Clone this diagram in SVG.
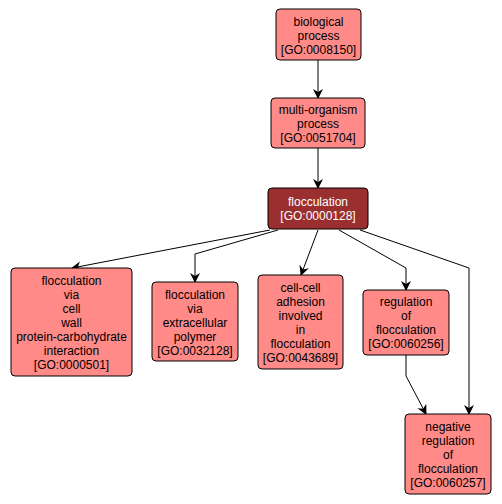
<svg xmlns="http://www.w3.org/2000/svg" width="502" height="504" viewBox="0 0 502 504">
<style>
.n rect{fill:#ff8a87;stroke:#000;stroke-width:1}
.n.sel rect{fill:#9b2f2f}
text{font-family:"Liberation Sans",Arial,sans-serif;font-size:12px;text-anchor:middle;fill:#000}
.sel text{fill:#fff}
.e{fill:none;stroke:#000;stroke-width:1}
</style>
<defs>
<marker id="a" viewBox="0 0 10 10" refX="9" refY="5" markerWidth="10" markerHeight="10" markerUnits="userSpaceOnUse" orient="auto">
<path d="M0,0 L10,5 L0,10 L3,5 Z" fill="#000"/>
</marker>
</defs>
<rect width="502" height="504" fill="#fff"/>
<g id="edges">
<path class="e" d="M318,60 L318,98" marker-end="url(#a)"/>
<path class="e" d="M318,148 L318,188" marker-end="url(#a)"/>
<path class="e" d="M270,230 L72,268" marker-end="url(#a)"/>
<path class="e" d="M278,230 L195,254 L195,282" marker-end="url(#a)"/>
<path class="e" d="M318,230 L301,275" marker-end="url(#a)"/>
<path class="e" d="M339,230 L406,268 L406,290" marker-end="url(#a)"/>
<path class="e" d="M360,230 L469,268 L469,414" marker-end="url(#a)"/>
<path class="e" d="M406,355 L406,376 L426,414" marker-end="url(#a)"/>
</g>
<g id="n1" class="n"><rect x="276" y="9" width="85" height="51" rx="4"/>
<text x="318.5" y="26">biological</text><text x="318.5" y="40">process</text><text x="318.5" y="54">[GO:0008150]</text></g>
<g id="n2" class="n"><rect x="271" y="98" width="94" height="50" rx="4"/>
<text x="318" y="114">multi-organism</text><text x="318" y="128">process</text><text x="318" y="142">[GO:0051704]</text></g>
<g id="n3" class="n sel"><rect x="268" y="188" width="100" height="41" rx="4"/>
<text x="318" y="206">flocculation</text><text x="318" y="220">[GO:0000128]</text></g>
<g id="n4" class="n"><rect x="11" y="268" width="121" height="108" rx="4"/>
<text x="71.5" y="285">flocculation</text><text x="71.5" y="299">via</text><text x="71.5" y="313">cell</text><text x="71.5" y="327">wall</text><text x="71.5" y="341">protein-carbohydrate</text><text x="71.5" y="355">interaction</text><text x="71.5" y="369">[GO:0000501]</text></g>
<g id="n5" class="n"><rect x="152" y="282" width="86" height="79" rx="4"/>
<text x="195" y="299">flocculation</text><text x="195" y="313">via</text><text x="195" y="327">extracellular</text><text x="195" y="341">polymer</text><text x="195" y="355">[GO:0032128]</text></g>
<g id="n6" class="n"><rect x="258" y="275" width="85" height="94" rx="4"/>
<text x="300.5" y="292">cell-cell</text><text x="300.5" y="306">adhesion</text><text x="300.5" y="320">involved</text><text x="300.5" y="334">in</text><text x="300.5" y="348">flocculation</text><text x="300.5" y="362">[GO:0043689]</text></g>
<g id="n7" class="n"><rect x="363" y="290" width="86" height="65" rx="4"/>
<text x="406" y="306">regulation</text><text x="406" y="320">of</text><text x="406" y="334">flocculation</text><text x="406" y="348">[GO:0060256]</text></g>
<g id="n8" class="n"><rect x="405" y="414" width="86" height="80" rx="4"/>
<text x="448" y="431">negative</text><text x="448" y="445">regulation</text><text x="448" y="459">of</text><text x="448" y="473">flocculation</text><text x="448" y="487">[GO:0060257]</text></g>
</svg>
